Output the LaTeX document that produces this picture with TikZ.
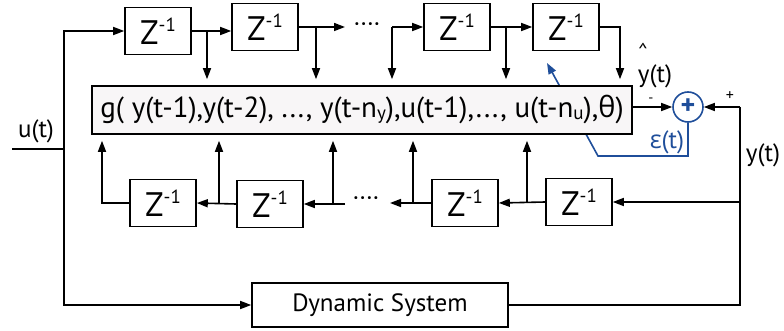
\documentclass[tikz,border=0pt]{standalone}
\usepackage{fontspec}
\setmainfont{PT Sans}
\newfontfamily\greekfont{Open Sans}
\usepackage{xcolor}
\usetikzlibrary{arrows.meta}
\definecolor{errblue}{HTML}{1F4E9A}
\definecolor{boxfill}{HTML}{F8F6F7}
\newcommand{\zinv}{Z\raisebox{13pt}{\fontsize{19}{19}\selectfont -1}}
\newcommand{\lowsub}[1]{\raisebox{-1.5pt}{\fontsize{19}{19}\selectfont #1}}

\tikzset{
  arr/.style={-{Triangle[length=11pt,width=8pt]}},
  delaybox/.style={draw,line width=1.6pt,minimum width=66pt,minimum height=47pt,inner sep=0pt,font=\fontsize{34}{34}\selectfont},
  lbl/.style={font=\fontsize{25}{25}\selectfont,inner sep=0pt}
}

\begin{document}
\begin{tikzpicture}[x=1pt,y=-1pt,line width=1.6pt]
    \useasboundingbox (0,0) rectangle (784,331);
    % delay line for u
    \node[delaybox] (zt1) at (158,31) {\zinv};
    \node[delaybox] (zt2) at (265,27) {\zinv};
    \node[delaybox] (zt3) at (457,27) {\zinv};
    \node[delaybox] (zt4) at (566,27) {\zinv};
    \node[lbl] (dt) at (367,27) {····};
    % delay line for y
    \node[delaybox] (zb1) at (579,202) {\zinv};
    \node[delaybox] (zb2) at (465,203) {\zinv};
    \node[delaybox] (zb3) at (270,204) {\zinv};
    \node[delaybox] (zb4) at (163,203) {\zinv};
    \node[lbl] (db) at (366,201) {····};
    % error feedback
    \node[draw=errblue,circle,minimum size=30pt,inner sep=0pt,text=errblue,font=\fontsize{28}{28}\bfseries] (sum) at (688,107) {+};
    \draw[errblue,arr] (sum.south) |- (598,156) -- (547,63);
    \node[lbl,text=errblue] (eps) at (667,142) {{\greekfont ε}(t)};
    % model
    \node[draw,fill=boxfill,minimum width=540pt,minimum height=48pt,inner sep=0pt,font=\fontsize{29}{29}\selectfont] (g) at (362,110)
      {g( y(t-1),y(t-2), ..., y(t-n\lowsub{y}),u(t-1),..., u(t-n\lowsub{u}),{\greekfont θ})};
    \node[draw,minimum width=256pt,minimum height=44pt,inner sep=0pt,font=\fontsize{25}{25}\selectfont] (dyn) at (380,305) {Dynamic System};
    % input
    \coordinate (uin) at (12,149);
    \coordinate (uj) at (64,149);
    \draw (uin) -- (uj);
    \draw[arr] (uj) |- (zt1.west);
    \draw[arr] (uj) |- (dyn.west);
    \node[lbl] (ulbl) at (36,131) {u(t)};
    % top taps
    \coordinate (t1) at (207,31);
    \coordinate (t2) at (345,27);
    \coordinate (t3) at (316,27);
    \coordinate (t4) at (392,27);
    \coordinate (t5) at (506,27);
    \coordinate (t6) at (620,27);
    \draw[arr] (zt1.east) -- (zt2.west |- zt1.east);
    \draw[arr,shorten >=6pt] (t1) -- (t1 |- g.north);
    \draw[arr] (zt2.east) -- (t2);
    \draw[arr,shorten >=6pt] (t3) -- (t3 |- g.north);
    \draw[arr] (t4) -- (zt3.west);
    \draw[arr,shorten >=6pt] (t4) -- (t4 |- g.north);
    \draw[arr] (zt3.east) -- (zt4.west);
    \draw[arr,shorten >=6pt] (t5) -- (t5 |- g.north);
    \draw[arr,shorten >=6pt] (zt4.east) -- (t6) -- (t6 |- g.north);
    % output and comparison
    \draw[arr] (g.east |- sum.west) -- (sum.west);
    \node[font=\fontsize{14}{14}\selectfont,inner sep=0pt] (minus) at (651,100) {-};
    \node[lbl] (yhat) at (655,76) {y(t)};
    \node[font=\fontsize{20}{20}\selectfont,inner sep=0pt,text height=4pt,text depth=0pt] (hat) at (643,56) {\^{}};
    \coordinate (yj) at (740,107);
    \draw[arr] (yj) -- (sum.east);
    \node[font=\fontsize{16}{16}\selectfont,inner sep=0pt] (plus) at (730,96) {+};
    \draw (yj) |- (dyn.east);
    \node[lbl] (ylbl) at (763,155) {y(t)};
    % bottom taps
    \coordinate (yb) at (740,202);
    \coordinate (s1) at (527,202);
    \coordinate (s2) at (390,203);
    \coordinate (s3) at (413,203);
    \coordinate (s4) at (345,204);
    \coordinate (s5) at (333,204);
    \coordinate (s6) at (219,204);
    \coordinate (s7) at (102,203);
    \draw[arr] (yb) -- (zb1.east);
    \draw[arr] (zb1.west) -- (zb2.east);
    \draw[arr,shorten >=6pt] (s1) -- (s1 |- g.south);
    \draw[arr] (zb2.west) -- (s2);
    \draw[arr,shorten >=6pt] (s3) -- (s3 |- g.south);
    \draw[arr] (s4) -- (zb3.east);
    \draw[arr,shorten >=6pt] (s5) -- (s5 |- g.south);
    \draw[arr] (zb3.west) -- (zb4.east);
    \draw[arr,shorten >=6pt] (s6) -- (s6 |- g.south);
    \draw[arr,shorten >=6pt] (zb4.west) -- (s7) -- (s7 |- g.south);
\end{tikzpicture}
\end{document}
